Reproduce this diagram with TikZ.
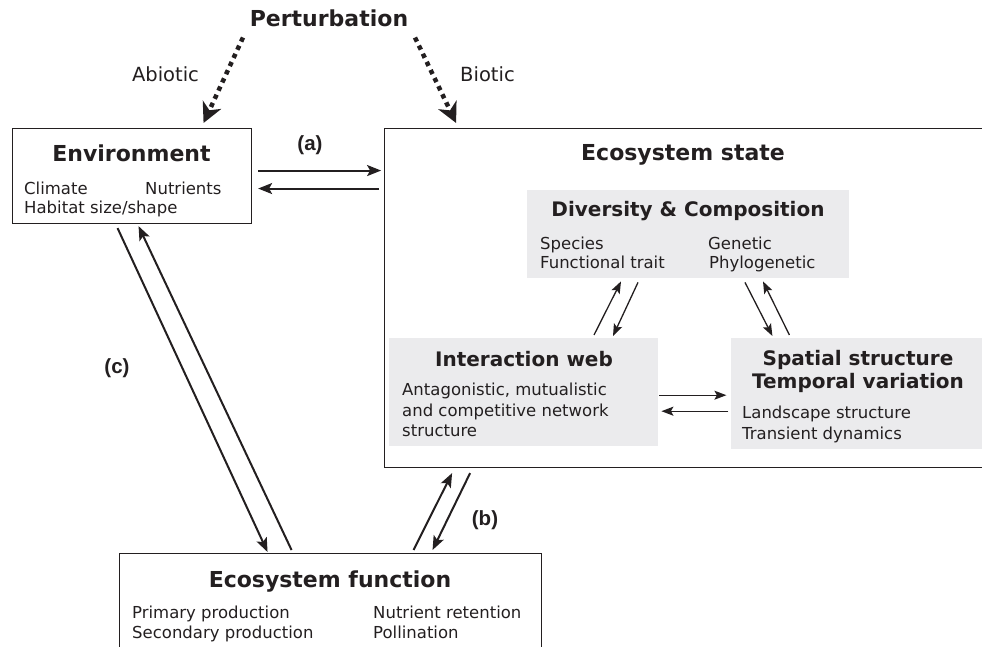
\documentclass[tikz,border=0pt]{standalone}
\usepackage{fontspec}
\setmainfont{DejaVu Sans}
\newfontfamily\tagfont{Liberation Sans}
\usetikzlibrary{arrows.meta,positioning,calc}
\definecolor{PanelGray}{HTML}{EBEBED}
\definecolor{Ink}{HTML}{231F20}

\begin{document}
\begin{tikzpicture}[x=1pt,y=-1pt,
  every node/.style={text=Ink,inner sep=0pt},
  box/.style={draw=Ink,line width=1.1pt},
  panel/.style={fill=PanelGray},
  head/.style={font=\bfseries\fontsize{22}{26}\selectfont,anchor=base},
  subhead/.style={font=\bfseries\fontsize{20}{24}\selectfont,anchor=base},
  body/.style={font=\fontsize{16.5}{20}\selectfont,anchor=base west},
  side/.style={font=\fontsize{19.5}{23}\selectfont},
  tag/.style={font=\tagfont\bfseries\fontsize{20.5}{24}\selectfont,anchor=base},
  link/.style={draw=Ink,line width=2pt,-{Stealth[length=14pt,width=11pt,inset=3pt]}},
  thin link/.style={draw=Ink,line width=1.3pt,-{Stealth[length=12pt,width=9pt,inset=2.5pt]}},
  hit/.style={draw=Ink,line width=4.5pt,dash pattern=on 4.5pt off 4.5pt,-{Stealth[length=20pt,width=20pt,inset=6pt]}}]
\useasboundingbox (0,0) rectangle (982,647);

% perturbation
\node[head] (pert) at (329,27) {Perturbation};
\node[side,anchor=base] (abio) at (165.5,82) {Abiotic};
\node[side,anchor=base west] (bio) at (460,82) {Biotic};

% environment
\node[box,anchor=north west,minimum width=239pt,minimum height=95pt] (env) at (12,128) {};
\node[head] (envT) at (131.5,162) {Environment};
\node[body] (envA) at (24,195) {Climate};
\node[body] (envB) at (145,195) {Nutrients};
\node[body] (envC) at (24,214) {Habitat size/shape};

% ecosystem state
\node[box,right=132pt of env.north east,anchor=north west,minimum width=627pt,minimum height=339pt] (state) {};
\node[head] (stateT) at (683,161) {Ecosystem state};

\node[panel,anchor=north west,minimum width=322pt,minimum height=88pt] (div) at (527,190) {};
\node[subhead] (divT) at (688,217) {Diversity \& Composition};
\node[body] (divA) at (540,249) {Species};
\node[body] (divB) at (540,268) {Functional trait};
\node[body] (divC) at (708,249) {Genetic};
\node[body] (divD) at (709,268) {Phylogenetic};

\node[panel,anchor=north west,minimum width=269pt,minimum height=108pt] (inter) at (389,338) {};
\node[subhead] (interT) at (524,366) {Interaction web};
\node[body] (interA) at (402,395) {Antagonistic, mutualistic};
\node[body] (interB) at (402,416) {and competitive network};
\node[body] (interC) at (402,436) {structure};

\node[panel,right=72pt of inter.north east,anchor=north west,minimum width=270pt,minimum height=111pt] (spat) {};
\node[subhead] (spatT) at (858,365) {Spatial structure};
\node[subhead] (spatU) at (858,388) {Temporal variation};
\node[body] (spatA) at (742,418) {Landscape structure};
\node[body] (spatB) at (742,439) {Transient dynamics};

% ecosystem function
\node[box,anchor=north west,minimum width=422pt,minimum height=130pt] (func) at (119,553) {};
\node[head] (funcT) at (330,587) {Ecosystem function};
\node[body] (funcA) at (132,618) {Primary production};
\node[body] (funcB) at (132,638) {Secondary production};
\node[body] (funcC) at (373,618) {Nutrient retention};
\node[body] (funcD) at (373,638) {Pollination};

\node[tag] (tagA) at (310,151) {(a)};
\node[tag] (tagB) at (485,525) {(b)};
\node[tag] (tagC) at (117,373) {(c)};

% connectors
\draw[hit] ($(pert.south)+(-86,10)$) -- ($(env.north)+(71.5,-5)$);
\draw[hit] ($(pert.south)+(86,10)$) -- ($(state.north west)+(72,-5)$);

\draw[link] ($(env.east)+(6,-5.5)$) -- ($(env.east -| state.west)+(-3,-5.5)$);
\draw[link] ($(env.east -| state.west)+(-5,12.5)$) -- ($(env.east)+(6,12.5)$);

\draw[link] ($(env.south)+(-14.5,4)$) -- ($(func.north)+(-63,-1)$);
\draw[link] ($(func.north)+(-39,-3)$) -- ($(env.south)+(6.5,2)$);

\draw[link] ($(func.north)+(83,-3)$) -- ($(state.south west)+(68,5)$);
\draw[link] ($(state.south west)+(86,5)$) -- ($(func.north)+(102,-3)$);

\draw[thin link] ($(inter.north west)+(205,-3)$) -- ($(div.south west)+(94,3)$);
\draw[thin link] ($(div.south west)+(111,4)$) -- ($(inter.north west)+(224,-2)$);
\draw[thin link] ($(div.south west)+(218,4)$) -- ($(spat.north west)+(42,-2)$);
\draw[thin link] ($(spat.north west)+(59,-3)$) -- ($(div.south west)+(236,3)$);
\draw[thin link] ($(inter.east)+(1,3)$) -- ($(inter.east -| spat.west)+(-4,3)$);
\draw[thin link] ($(inter.east -| spat.west)+(-2,19)$) -- ($(inter.east)+(3,19)$);
\end{tikzpicture}
\end{document}
